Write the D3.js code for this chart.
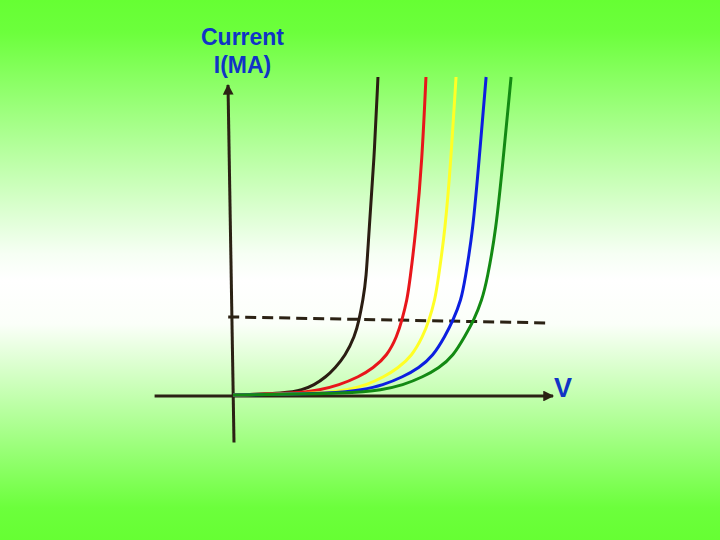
<!DOCTYPE html>
<html>
<head>
<meta charset="utf-8">
<script src="https://cdn.jsdelivr.net/npm/d3@7"></script>
<style>
  html, body { margin: 0; padding: 0; }
  svg { display: block; }
</style>
</head>
<body>
<div id="chart"></div>
<script>
'use strict';

// currents (mA) shared by every curve, bottom to top
const currents = [0.3, 0.9, 1.9, 3.4, 6.0, 8.8, 12.5, 18.8, 23.8, 30.1, 36.4, 52.0, 74.0, 100];

// voltages at those currents, one array per diode
const vBlack  = [0, 1.69, 2.16, 2.53, 2.91, 3.19, 3.50, 3.81, 3.94, 4.06, 4.16, 4.25, 4.41, 4.53];
const vRed    = [0, 2.00, 2.72, 3.30, 3.94, 4.38, 4.81, 5.13, 5.28, 5.44, 5.53, 5.72, 5.91, 6.03];
const vYellow = [0, 2.88, 3.56, 4.16, 4.72, 5.16, 5.59, 5.94, 6.13, 6.31, 6.41, 6.63, 6.81, 6.97];
const vBlue   = [0, 3.31, 4.00, 4.69, 5.31, 5.81, 6.25, 6.63, 6.88, 7.13, 7.25, 7.50, 7.69, 7.91];
const vGreen  = [0, 3.81, 4.63, 5.31, 5.94, 6.44, 6.88, 7.25, 7.53, 7.78, 7.94, 8.22, 8.44, 8.69];

const seriesNames = ['black', 'red', 'yellow', 'blue', 'green'];
const seriesColors = ['#2a1d12', '#e8161b', '#ffff26', '#0c1fe0', '#138a13'];
const seriesVolts = [vBlack, vRed, vYellow, vBlue, vGreen];

// dashed operating line
const refV = [-0.15, 9.85];
const refI = [24.8, 22.9];

// axis extents
const xAxisV = [-2.45, 10];
const yAxisI = [-14.6, 97.5];

let width = 720, height = 540;

let svg = d3.select('#chart').append('svg')
    .attr('width', width)
    .attr('height', height);

// background gradient green -> white -> green
let defs = svg.append('defs');
let grad = defs.append('linearGradient')
    .attr('id', 'bg')
    .attr('x1', 0).attr('y1', 0)
    .attr('x2', 0).attr('y2', 1);
[[0, '#66ff33'], [0.06, '#6cff3c'], [0.47, '#f6fff4'], [0.52, '#ffffff'],
 [0.6, '#fbfff9'], [0.94, '#6cff3c'], [1, '#66ff33']].forEach(function(s) {
    grad.append('stop').attr('offset', s[0]).attr('stop-color', s[1]);
});
svg.append('rect')
    .attr('width', width).attr('height', height)
    .attr('fill', 'url(#bg)');

// scales
let x = d3.scaleLinear().domain([0, 10]).range([233, 553]);
let y = d3.scaleLinear().domain([0, 100]).range([396, 77]);

let axisColor = '#2b2214';

// arrow markers
defs.append('marker')
    .attr('id', 'arrow')
    .attr('viewBox', '0 0 10 10')
    .attr('refX', 9).attr('refY', 5)
    .attr('markerWidth', 4.5).attr('markerHeight', 3.6)
    .attr('markerUnits', 'strokeWidth')
    .attr('orient', 'auto')
    .append('path')
    .attr('d', 'M0,0 L10,5 L0,10 Z')
    .attr('fill', axisColor);

let g = svg.append('g');

// horizontal axis (V)
g.append('line')
    .attr('x1', x(xAxisV[0])).attr('y1', y(0))
    .attr('x2', x(xAxisV[1])).attr('y2', y(0))
    .attr('stroke', axisColor)
    .attr('stroke-width', 3)
    .attr('marker-end', 'url(#arrow)');

// vertical axis (I), drawn slightly leaning like the original
g.append('line')
    .attr('x1', x(0) + 1).attr('y1', y(yAxisI[0]))
    .attr('x2', x(0) - 5).attr('y2', y(yAxisI[1]))
    .attr('stroke', axisColor)
    .attr('stroke-width', 3)
    .attr('marker-end', 'url(#arrow)');

// dashed line
g.append('line')
    .attr('x1', x(refV[0])).attr('y1', y(refI[0]))
    .attr('x2', x(refV[1])).attr('y2', y(refI[1]))
    .attr('stroke', axisColor)
    .attr('stroke-width', 3)
    .attr('stroke-dasharray', '11,6');

// diode curves - basis spline smooths out small reading errors
let line = d3.line()
    .x(function(d) { return x(d[0]); })
    .y(function(d) { return y(d[1]); })
    .curve(d3.curveBasis);

// draw back to front so the green sits on top near the axis
seriesNames.forEach(function(name, i) {
    let pts = seriesVolts[i].map(function(v, j) { return [v, currents[j]]; });
    g.append('path')
        .attr('class', 'curve curve-' + name)
        .attr('d', line(pts))
        .attr('fill', 'none')
        .attr('stroke', seriesColors[i])
        .attr('stroke-width', 3);
});

// labels
let labelColor = '#1034c6';
let font = 'Liberation Sans, Arial, sans-serif';
svg.append('text')
    .attr('x', 242.5).attr('y', 45)
    .attr('text-anchor', 'middle')
    .attr('font-family', font)
    .attr('font-size', 23)
    .attr('font-weight', 'bold')
    .attr('fill', labelColor)
    .text('Current');
svg.append('text')
    .attr('x', 242.5).attr('y', 73)
    .attr('text-anchor', 'middle')
    .attr('font-family', font)
    .attr('font-size', 23)
    .attr('font-weight', 'bold')
    .attr('fill', labelColor)
    .text('I(MA)');
svg.append('text')
    .attr('x', 563).attr('y', 397)
    .attr('text-anchor', 'middle')
    .attr('font-family', font)
    .attr('font-size', 27)
    .attr('font-weight', 'bold')
    .attr('fill', labelColor)
    .text('V');
</script>
</body>
</html>
